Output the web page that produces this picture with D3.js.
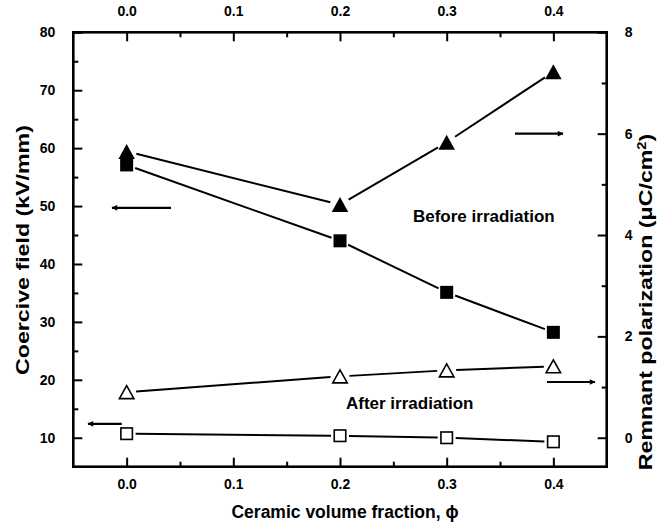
<!DOCTYPE html>
<html>
<head>
<meta charset="utf-8">
<script src="https://cdn.jsdelivr.net/npm/d3@7"></script>
<style>
  html, body { margin: 0; padding: 0; background: #fff; }
  svg text { font-family: "Liberation Sans", Arial, sans-serif; font-weight: bold; fill: #000; }
</style>
</head>
<body>
<svg id="chart" width="669" height="531"></svg>
<script>
// ---- data ----
const fraction = [0.0, 0.2, 0.3, 0.4];
const coerciveBefore = [57.1, 44.0, 35.1, 28.2];        // left axis, kV/mm (filled squares)
const coerciveAfter = [10.7, 10.35, 10.0, 9.3];         // left axis (open squares)
const remnantBefore = [5.65, 4.6, 5.83, 7.22];          // right axis, uC/cm2 (filled triangles)
const remnantAfter = [0.90, 1.21, 1.33, 1.41];          // right axis (open triangles)
const xTicks = [0.0, 0.1, 0.2, 0.3, 0.4];
const leftTicks = [10, 20, 30, 40, 50, 60, 70, 80];
const rightTicks = [0, 2, 4, 6, 8];

const W = 669, H = 531;
const m = {left: 73.3, right: 62.3, top: 32.3, bottom: 64.3};
const svg = d3.select("#chart");

const x = d3.scaleLinear().domain([-0.05, 0.45]).range([m.left, W - m.right]);
const yL = d3.scaleLinear().domain([5, 80]).range([H - m.bottom, m.top]);
const yR = d3.scaleLinear().domain([(5 - 10) * 8 / 70, 8]).range([H - m.bottom, m.top]);

const major = 9, minor = 5, tickW = 2;

// ---- axes ----
function drawAxis(axisFn, scale, ticks, minorTicks, transform, fmt, labelOffset) {
  const g = svg.append("g").attr("transform", transform);
  g.call(axisFn(scale).tickValues(ticks).tickFormat(fmt).tickSizeInner(-major).tickSizeOuter(0).tickPadding(labelOffset));
  g.select(".domain").remove();
  g.selectAll(".tick line").attr("stroke", "#000").attr("stroke-width", tickW);
  g.selectAll(".tick text").style("font-size", "14px").attr("fill", "#000");
  const gm = svg.append("g").attr("transform", transform);
  gm.call(axisFn(scale).tickValues(minorTicks).tickFormat("").tickSizeInner(-minor).tickSizeOuter(0));
  gm.select(".domain").remove();
  gm.selectAll(".tick line").attr("stroke", "#000").attr("stroke-width", tickW);
  return g;
}
const xMinor = [0.05, 0.15, 0.25, 0.35];
const lMinor = [15, 25, 35, 45, 55, 65, 75];
const rMinor = [1, 3, 5, 7];

drawAxis(d3.axisBottom, x, xTicks, xMinor, `translate(0,${H - m.bottom})`, d3.format(".1f"), 12);
drawAxis(d3.axisTop, x, xTicks, xMinor, `translate(0,${m.top})`, d3.format(".1f"), 16);
drawAxis(d3.axisLeft, yL, leftTicks, lMinor, `translate(${m.left},0)`, d3.format("d"), 18);
drawAxis(d3.axisRight, yR, rightTicks, rMinor, `translate(${W - m.right},0)`, d3.format("d"), 18);

// frame
svg.append("rect")
  .attr("x", m.left).attr("y", m.top)
  .attr("width", W - m.left - m.right).attr("height", H - m.top - m.bottom)
  .attr("fill", "none").attr("stroke", "#000").attr("stroke-width", 2.6);

// ---- series lines (with gaps at markers) ----
function drawSeries(values, yScale, gap) {
  const pts = fraction.map((f, i) => [x(f), yScale(values[i])]);
  for (let i = 0; i < pts.length - 1; i++) {
    const [x1, y1] = pts[i], [x2, y2] = pts[i + 1];
    const dx = x2 - x1, dy = y2 - y1, L = Math.hypot(dx, dy);
    const ux = dx / L, uy = dy / L;
    svg.append("line")
      .attr("x1", x1 + ux * gap).attr("y1", y1 + uy * gap)
      .attr("x2", x2 - ux * gap).attr("y2", y2 - uy * gap)
      .attr("stroke", "#000").attr("stroke-width", 2);
  }
  return pts;
}

const sqB = drawSeries(coerciveBefore, yL, 9);
const sqA = drawSeries(coerciveAfter, yL, 9);
const trB = drawSeries(remnantBefore, yR, 10);
const trA = drawSeries(remnantAfter, yR, 9.5);

function squares(pts, size, filled) {
  svg.append("g").selectAll("rect").data(pts).join("rect")
    .attr("x", d => d[0] - size / 2).attr("y", d => d[1] - size / 2)
    .attr("width", size).attr("height", size)
    .attr("fill", filled ? "#000" : "#fff")
    .attr("stroke", "#000").attr("stroke-width", filled ? 0 : 1.6);
}
function triangles(pts, w, h, filled) {
  svg.append("g").selectAll("path").data(pts).join("path")
    .attr("d", d => `M${d[0]},${d[1] - h / 2}L${d[0] + w / 2},${d[1] + h / 2}L${d[0] - w / 2},${d[1] + h / 2}Z`)
    .attr("fill", filled ? "#000" : "#fff")
    .attr("stroke", "#000").attr("stroke-width", filled ? 0 : 1.6).attr("stroke-linejoin", "miter");
}
squares(sqB, 13, true);
triangles(trB, 16.5, 15, true);
squares(sqA, 11.5, false);
triangles(trA, 14.5, 13, false);

// ---- arrows (data coordinates) ----
const defs = svg.append("defs");
defs.append("marker").attr("id", "ah").attr("viewBox", "0 0 10 10")
  .attr("refX", 9).attr("refY", 5).attr("markerWidth", 3.4).attr("markerHeight", 2.6)
  .attr("orient", "auto").attr("markerUnits", "strokeWidth")
  .append("path").attr("d", "M0,0L10,5L0,10Z").attr("fill", "#000");

const arrows = [
  {from: [0.0416, 49.7], to: [-0.0137, 49.7], axis: "L"},
  {from: [-0.0046, 12.4], to: [-0.0362, 12.4], axis: "L"},
  {from: [0.364, 6.0], to: [0.409, 6.0], axis: "R"},
  {from: [0.394, 1.10], to: [0.439, 1.10], axis: "R"}
];
arrows.forEach(a => {
  const ys = a.axis === "L" ? yL : yR;
  svg.append("line")
    .attr("x1", x(a.from[0])).attr("y1", ys(a.from[1]))
    .attr("x2", x(a.to[0])).attr("y2", ys(a.to[1]))
    .attr("stroke", "#000").attr("stroke-width", 2.2)
    .attr("marker-end", "url(#ah)");
});

// ---- annotations ----
svg.append("text").attr("x", x(0.2684)).attr("y", yL(47.2))
  .style("font-size", "17px").text("Before irradiation");
svg.append("text").attr("x", x(0.2056)).attr("y", yL(15.0))
  .style("font-size", "17px").text("After irradiation");

// ---- axis titles ----
svg.append("text")
  .attr("x", (m.left + W - m.right) / 2 + 5).attr("y", 518)
  .attr("text-anchor", "middle").style("font-size", "17.5px")
  .text("Ceramic volume fraction, \u03D5");

svg.append("text")
  .attr("transform", `translate(29,250) rotate(-90) scale(1.22,1)`)
  .attr("text-anchor", "middle").style("font-size", "19px")
  .text("Coercive field (kV/mm)");

const rt = svg.append("text")
  .attr("transform", `translate(652,302) rotate(-90) scale(1.22,1)`)
  .attr("text-anchor", "middle").style("font-size", "19px");
rt.append("tspan").text("Remnant polarization (\u03BCC/cm");
rt.append("tspan").attr("baseline-shift", "super").style("font-size", "12px").text("2");
rt.append("tspan").text(")");
</script>
</body>
</html>
